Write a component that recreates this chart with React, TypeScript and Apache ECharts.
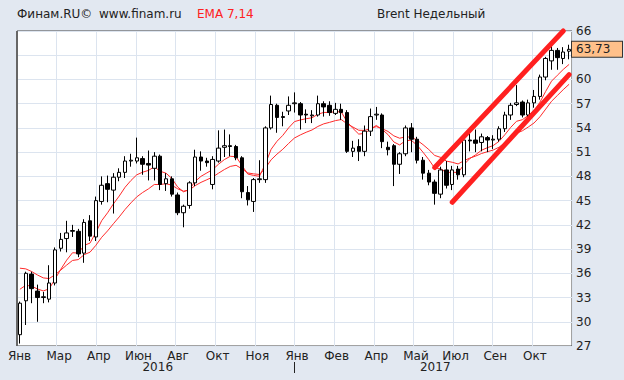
import React, { useEffect, useRef } from "react";
import * as echarts from "echarts";

// Weekly Brent candles (Jan 2016 – Dec 2017)
const opens = [
  28.4, 32.6, 35.9, 33.8, 33.0, 32.8, 34.8, 39.1, 40.3, 41.2,
  41.2, 38.5, 42.5, 40.5, 44.9, 47.1, 46.3, 47.9, 48.5, 49.9,
  49.9, 50.2, 49.6, 49.0, 50.5, 47.1, 47.7, 45.7, 43.5, 44.4,
  47.2, 50.4, 49.9, 47.0, 49.9, 51.6, 51.8, 51.7, 50.3, 46.0,
  44.9, 47.6, 47.6, 54.0, 56.8, 55.4, 56.1, 57.0, 57.0, 55.7,
  55.5, 55.6, 57.0, 56.8, 55.8, 56.3, 55.9, 51.1, 51.7, 51.1,
  53.6, 55.6, 55.6, 51.6, 51.8, 49.5, 50.8, 54.0, 52.6, 50.0,
  48.4, 47.3, 45.8, 48.8, 47.0, 48.9, 48.2, 52.5, 52.5, 52.2,
  52.8, 52.5, 52.6, 53.9, 55.6, 56.9, 57.2, 55.6, 57.1, 57.9,
  60.3, 62.3, 63.6, 62.6, 63.5,
];
const highs = [
  32.5, 36.2, 36.2, 34.6, 33.7, 37.0, 39.2, 41.0, 42.5, 42.0,
  41.5, 42.7, 43.2, 45.5, 48.0, 48.1, 48.4, 49.0, 50.5, 50.8,
  52.8, 50.5, 51.2, 51.0, 50.7, 48.4, 48.0, 46.0, 44.5, 47.4,
  51.3, 51.1, 50.3, 50.5, 53.7, 53.8, 53.2, 51.9, 50.5, 46.8,
  47.8, 50.0, 54.2, 58.0, 57.0, 56.0, 57.9, 58.4, 57.2, 56.3,
  56.2, 58.0, 57.3, 57.3, 57.1, 57.0, 56.2, 52.4, 52.6, 54.3,
  56.4, 56.6, 55.8, 52.3, 52.0, 51.0, 54.3, 54.6, 52.9, 50.4,
  48.8, 47.6, 49.2, 49.9, 49.3, 49.3, 52.8, 53.5, 53.8, 53.3,
  53.0, 53.1, 54.2, 56.0, 57.1, 59.3, 57.4, 57.5, 58.7, 60.6,
  62.8, 64.6, 63.9, 64.0, 64.3,
];
const lows = [
  27.3, 29.6, 32.3, 30.0, 32.3, 32.4, 34.5, 38.7, 38.6, 40.5,
  38.0, 37.3, 40.0, 40.0, 44.5, 44.8, 43.4, 47.4, 47.8, 49.2,
  49.6, 48.2, 47.5, 47.5, 46.3, 46.2, 45.5, 43.2, 41.7, 44.0,
  46.8, 48.7, 49.2, 46.4, 49.7, 50.4, 50.5, 50.0, 45.3, 44.4,
  43.6, 47.2, 47.2, 53.8, 53.4, 54.2, 55.6, 55.9, 53.8, 54.6,
  54.6, 55.4, 55.4, 55.5, 55.6, 55.0, 50.9, 50.4, 49.9, 50.5,
  53.0, 55.0, 51.5, 50.6, 46.8, 48.3, 50.5, 51.0, 49.6, 47.6,
  46.9, 44.5, 45.3, 46.5, 46.3, 47.6, 47.9, 51.1, 51.0, 51.1,
  51.0, 51.4, 52.3, 53.5, 55.0, 56.7, 55.3, 55.1, 56.5, 57.5,
  59.9, 61.2, 61.2, 61.9, 62.5,
];
const closes = [
  32.3, 36.0, 34.1, 33.0, 33.1, 34.8, 38.9, 40.2, 41.0, 41.3,
  38.4, 42.3, 40.6, 45.0, 46.9, 46.4, 47.9, 48.5, 49.9, 50.0,
  50.3, 49.5, 49.4, 50.5, 47.0, 47.7, 45.8, 43.5, 44.3, 47.2,
  50.4, 49.9, 49.7, 50.1, 51.5, 51.8, 51.7, 50.3, 46.1, 45.1,
  47.6, 47.7, 54.0, 56.9, 55.3, 55.3, 56.8, 57.1, 55.6, 55.6,
  55.6, 57.0, 56.6, 55.9, 56.3, 55.9, 51.1, 51.5, 51.1, 53.6,
  55.4, 55.7, 52.3, 51.3, 49.5, 50.8, 54.0, 52.6, 50.0, 48.4,
  47.3, 45.9, 48.8, 46.9, 48.8, 48.2, 52.5, 52.4, 52.1, 52.9,
  52.5, 52.6, 53.9, 55.6, 56.8, 57.1, 55.6, 57.1, 57.9, 60.3,
  62.6, 63.6, 62.7, 63.4, 63.73,
];

// EMA values of the indicator just before the first visible week
const ema7Seed = 34.6;
const ema14Seed = 37.3;

// Hand-drawn trend channel: [candle index, price]
const upperChannel = [[71, 49.1], [93, 66.0]];
const lowerChannel = [[74, 44.8], [94, 60.6]];

// Axis tick labels
const monthLabels = ["Янв", "Мар", "Апр", "Июн", "Авг", "Окт", "Ноя", "Янв", "Фев", "Апр", "Май", "Июл", "Сен", "Окт"];
const yearLabels = ["2016", "2017"];
const yearStartSlot = [0, 7];

const headerLeft = ["Финам.RU©", "www.finam.ru"];
const indicatorTitle = "EMA 7,14";
const chartTitle = "Brent Недельный";

const FONT = "'DejaVu Sans', Verdana, sans-serif";

function ema(values: number[], n: number, seed: number): number[] {
  const k = 2 / (n + 1);
  let prev = seed;
  return values.map((v) => {
    prev = prev + k * (v - prev);
    return +prev.toFixed(3);
  });
}

export default function App() {
  const ref = useRef<HTMLDivElement>(null);

  useEffect(() => {
    if (!ref.current) return;
    const chart = echarts.init(ref.current, undefined, { renderer: "svg" });

    const gridLeft = 17;
    const gridTop = 31;
    const gridWidth = 555;
    const gridHeight = 315;
    const slots = 14;
    const slotW = gridWidth / slots;

    const cats = closes.map((_, i) => String(i));
    const candles = closes.map((c, i) => [opens[i], c, lows[i], highs[i]]);
    const ema7 = ema(closes, 7, ema7Seed);
    const ema14 = ema(closes, 14, ema14Seed);
    const last = closes[closes.length - 1];

    const yearTexts = yearLabels.map((t, k) => {
      const x0 = gridLeft + yearStartSlot[k] * slotW;
      const x1 = k + 1 < yearStartSlot.length ? gridLeft + yearStartSlot[k + 1] * slotW : gridLeft + gridWidth;
      return {
        type: "text",
        x: (x0 + x1) / 2 + 2,
        y: 367,
        style: { text: t, fill: "#222", font: `12px ${FONT}`, align: "center", verticalAlign: "middle" },
      };
    });

    const trendStyle = { color: "#FF2020", width: 5, type: "solid", cap: "round" };

    chart.setOption({
      animation: false,
      backgroundColor: "#E2E8F1",
      grid: {
        left: gridLeft,
        top: gridTop,
        width: gridWidth,
        height: gridHeight,
        show: true,
        backgroundColor: "#ffffff",
        borderColor: "#444",
        borderWidth: 1,
      },
      xAxis: [
        {
          type: "category",
          data: cats,
          boundaryGap: true,
          show: false,
        },
        {
          type: "value",
          min: 0,
          max: slots,
          interval: 1,
          position: "bottom",
          axisLine: { show: false },
          axisTick: { show: false },
          splitLine: { show: true, lineStyle: { color: "#DCE4EF", width: 1 } },
          axisLabel: {
            margin: 4,
            color: "#222",
            fontSize: 12,
            fontFamily: FONT,
            padding: [0, 0, 0, 5],
            formatter: (v: number) => monthLabels[v] ?? "",
          },
        },
      ],
      yAxis: {
        type: "value",
        position: "right",
        min: 27,
        max: 66,
        interval: 3,
        axisLine: { show: false },
        axisTick: { show: false },
        splitLine: { show: true, lineStyle: { color: "#DCE4EF", width: 1 } },
        axisLabel: {
          margin: 4,
          color: "#222",
          fontSize: 12,
          fontFamily: FONT,
          formatter: (v: number) => (Math.abs(v - last) < 1.5 ? "" : String(v)),
        },
      },
      series: [
        {
          type: "line",
          data: ema14,
          xAxisIndex: 0,
          showSymbol: false,
          lineStyle: { color: "#FF2A2A", width: 1 },
          z: 3,
        },
        {
          type: "line",
          data: ema7,
          xAxisIndex: 0,
          showSymbol: false,
          lineStyle: { color: "#FF2A2A", width: 1 },
          z: 3,
        },
        {
          type: "candlestick",
          data: candles,
          xAxisIndex: 0,
          barWidth: 4,
          z: 4,
          itemStyle: {
            color: "#ffffff",
            color0: "#000000",
            borderColor: "#000000",
            borderColor0: "#000000",
            borderWidth: 1,
          },
          markLine: {
            silent: true,
            symbol: ["none", "none"],
            animation: false,
            data: [
              [
                { coord: upperChannel[0], lineStyle: trendStyle, label: { show: false } },
                { coord: upperChannel[1] },
              ],
              [
                { coord: lowerChannel[0], lineStyle: trendStyle, label: { show: false } },
                { coord: lowerChannel[1] },
              ],
            ],
          },
        },
        {
          // carries only the last-price box at the right edge
          type: "line",
          data: [],
          xAxisIndex: 0,
          z: 6,
          markLine: {
            silent: true,
            symbol: ["none", "none"],
            animation: false,
            lineStyle: { color: "rgba(0,0,0,0)", width: 1, type: "solid" },
            label: {
              show: true,
              position: "end",
              distance: 0,
              formatter: last.toFixed(2).replace(".", ","),
              width: 44,
              align: "left",
              backgroundColor: "#FFC08A",
              borderColor: "#333",
              borderWidth: 1,
              padding: [2, 2, 1, 4],
              color: "#222",
              fontSize: 12,
              fontFamily: FONT,
            },
            data: [{ yAxis: last }],
          },
        },
      ],
      graphic: [
        {
          type: "text",
          x: 17,
          y: 14,
          style: { text: headerLeft[0], fill: "#222", font: `12px ${FONT}`, verticalAlign: "middle" },
        },
        {
          type: "text",
          x: 99,
          y: 14,
          style: { text: headerLeft[1], fill: "#222", font: `12px ${FONT}`, verticalAlign: "middle" },
        },
        {
          type: "text",
          x: 197,
          y: 14,
          style: { text: indicatorTitle, fill: "#FF2020", font: `12px ${FONT}`, verticalAlign: "middle" },
        },
        {
          type: "text",
          x: 377,
          y: 14,
          style: { text: chartTitle, fill: "#222", font: `12px ${FONT}`, verticalAlign: "middle" },
        },
        ...yearTexts,
        {
          type: "line",
          shape: {
            x1: gridLeft + yearStartSlot[1] * slotW,
            y1: 362,
            x2: gridLeft + yearStartSlot[1] * slotW,
            y2: 373,
          },
          style: { stroke: "#222", lineWidth: 1 },
        },
        {
          type: "line",
          z: 10,
          shape: { x1: gridLeft, y1: gridTop, x2: gridLeft, y2: gridTop + gridHeight },
          style: { stroke: "#666", lineWidth: 2 },
        },
      ],
    });

    return () => chart.dispose();
  }, []);

  return (
    <div
      ref={ref}
      style={{ position: "absolute", left: 0, top: 0, width: 624, height: 380 }}
    />
  );
}
